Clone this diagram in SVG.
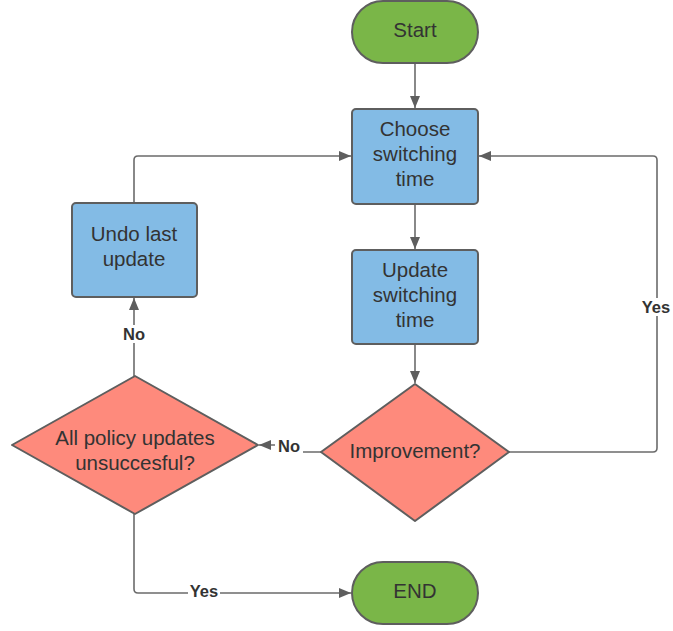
<svg xmlns="http://www.w3.org/2000/svg" width="673" height="631" viewBox="0 0 673 631">
<style>
.t{font-family:"Liberation Sans",Arial,sans-serif;font-size:20.5px;fill:#333;text-anchor:middle}
.l{font-family:"Liberation Sans",Arial,sans-serif;font-size:16.5px;font-weight:bold;fill:#333;text-anchor:middle}
.g{fill:#7AB648;stroke:#5E5E5E;stroke-width:2}
.b{fill:#83BBE5;stroke:#5E5E5E;stroke-width:2}
.r{fill:#FE8A7C;stroke:#5E5E5E;stroke-width:2;stroke-linejoin:round}
.c{fill:none;stroke:#6B6B6B;stroke-width:1.6}
</style>
<defs>
<marker id="a" viewBox="0 0 12 10" refX="12" refY="5" markerWidth="12" markerHeight="10" markerUnits="userSpaceOnUse" orient="auto">
<path d="M0,0 L12,5 L0,10 Z" fill="#5E5E5E"/>
</marker>
</defs>
<rect width="673" height="631" fill="#fff"/>
<g id="connectors">
<path class="c" d="M415,63 V108" marker-end="url(#a)"/>
<path class="c" d="M415,204 V249" marker-end="url(#a)"/>
<path class="c" d="M415,344 V383" marker-end="url(#a)"/>
<path class="c" d="M134,203 V160 Q134,156 138,156 H351" marker-end="url(#a)"/>
<path class="c" d="M509,452 H653 Q657,452 657,448 V160 Q657,156 653,156 H479" marker-end="url(#a)"/>
<path class="c" d="M321,452 H292 V445 H259" marker-end="url(#a)"/>
<path class="c" d="M134,376 V298" marker-end="url(#a)"/>
<path class="c" d="M134,514 V589 Q134,593 138,593 H351" marker-end="url(#a)"/>
<rect x="275" y="437" width="28" height="18" fill="#fff"/>
<text class="l" x="289" y="452">No</text>
<rect x="120" y="325" width="28" height="18" fill="#fff"/>
<text class="l" x="134" y="340">No</text>
<rect x="640" y="298" width="33" height="18" fill="#fff"/>
<text class="l" x="656" y="313">Yes</text>
<rect x="188" y="583" width="32" height="18" fill="#fff"/>
<text class="l" x="204" y="597">Yes</text>
</g>
<g id="start">
<rect class="g" x="352" y="1" width="126" height="62" rx="31"/>
<text class="t" x="415" y="37">Start</text>
</g>
<g id="choose">
<rect class="b" x="352" y="109" width="126" height="95" rx="4"/>
<text class="t" x="415" y="136">Choose</text>
<text class="t" x="415" y="161">switching</text>
<text class="t" x="415" y="186">time</text>
</g>
<g id="update">
<rect class="b" x="352" y="250" width="126" height="94" rx="4"/>
<text class="t" x="415" y="277">Update</text>
<text class="t" x="415" y="302">switching</text>
<text class="t" x="415" y="327">time</text>
</g>
<g id="undo">
<rect class="b" x="72" y="203" width="125" height="94" rx="4"/>
<text class="t" x="134" y="241">Undo last</text>
<text class="t" x="134" y="266">update</text>
</g>
<g id="improvement">
<path class="r" d="M415,384 L509,452 L415,521 L321,452 Z"/>
<text class="t" x="415" y="458">Improvement?</text>
</g>
<g id="allpolicy">
<path class="r" d="M135,376 L258,445 L135,514 L12,445 Z"/>
<text class="t" x="135" y="445">All policy updates</text>
<text class="t" x="135" y="470">unsuccesful?</text>
</g>
<g id="end">
<rect class="g" x="352" y="562" width="126" height="62" rx="31"/>
<text class="t" x="415" y="598">END</text>
</g>
</svg>
